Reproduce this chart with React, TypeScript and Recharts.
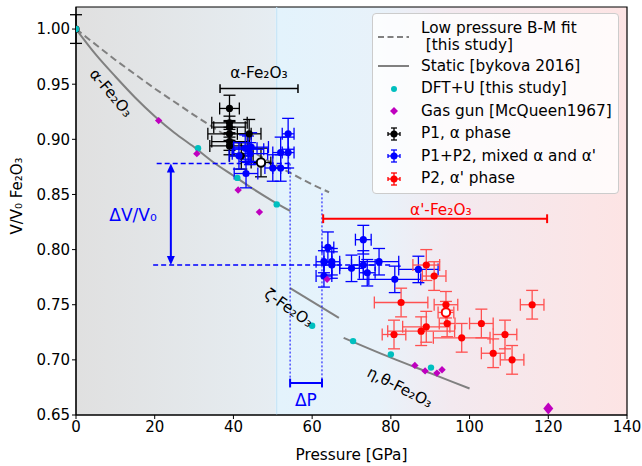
import React from "react";
import {
  ComposedChart,
  Line,
  Scatter,
  ErrorBar,
  XAxis,
  YAxis,
  CartesianGrid,
  ReferenceLine,
  ReferenceDot,
  ReferenceArea,
} from "recharts";

const FONT = "DejaVu Sans, Verdana, sans-serif";

const X_TICKS = [0, 20, 40, 60, 80, 100, 120, 140];
const Y_TICKS = [0.65, 0.7, 0.75, 0.8, 0.85, 0.9, 0.95, 1.0];

// curves
const bmFit = [
  { p: 0, v: 1.0 },
  { p: 10, v: 0.972 },
  { p: 20, v: 0.946 },
  { p: 30, v: 0.922 },
  { p: 40, v: 0.899 },
  { p: 50, v: 0.878 },
  { p: 60, v: 0.859 },
  { p: 64.3, v: 0.852 },
];

const staticAlpha = [
  { p: 0, v: 1.0 },
  { p: 5, v: 0.977 },
  { p: 10, v: 0.957 },
  { p: 15, v: 0.938 },
  { p: 20, v: 0.921 },
  { p: 25, v: 0.906 },
  { p: 30, v: 0.893 },
  { p: 35, v: 0.879 },
  { p: 40, v: 0.867 },
  { p: 45, v: 0.855 },
  { p: 50, v: 0.844 },
  { p: 54.4, v: 0.835 },
];

const staticZeta = [
  { p: 54.4, v: 0.765 },
  { p: 66.8, v: 0.738 },
];

const staticEta = [
  { p: 68, v: 0.72 },
  { p: 80, v: 0.702 },
  { p: 90, v: 0.688 },
  { p: 100, v: 0.674 },
];

// points
const dft = [
  { p: 0, v: 1.0 },
  { p: 31, v: 0.892 },
  { p: 41, v: 0.865 },
  { p: 51, v: 0.841 },
  { p: 60, v: 0.731 },
  { p: 70.4, v: 0.717 },
  { p: 80, v: 0.705 },
  { p: 90.2, v: 0.693 },
];

const gasGun = [
  { p: 21, v: 0.917 },
  { p: 30.7, v: 0.887 },
  { p: 41.2, v: 0.854 },
  { p: 46.6, v: 0.834 },
  { p: 63.8, v: 0.773 },
  { p: 86.1, v: 0.695 },
  { p: 88.7, v: 0.69 },
  { p: 91.7, v: 0.688 },
  { p: 93, v: 0.691 },
];
const gasGunHigh = [{ p: 120, v: 0.656 }];

const p1Alpha = [
  { p: 0, v: 1.0, xe: 0, ye: 0.013 },
  { p: 39, v: 0.928, xe: 2.5, ye: 0.012 },
  { p: 39, v: 0.915, xe: 4.5, ye: 0.006 },
  { p: 39, v: 0.911, xe: 4, ye: 0.006 },
  { p: 39, v: 0.905, xe: 5.5, ye: 0.006 },
  { p: 39, v: 0.898, xe: 4.5, ye: 0.008 },
  { p: 39, v: 0.894, xe: 5, ye: 0.008 },
  { p: 44, v: 0.905, xe: 3, ye: 0.013 },
  { p: 42, v: 0.885, xe: 3, ye: 0.012 },
];
const p1AlphaOpen = [{ p: 47, v: 0.879, xe: 2.5, ye: 0.013 }];

const p1p2Mixed = [
  { p: 41.4, v: 0.885, xe: 2.5, ye: 0.012 },
  { p: 43, v: 0.892, xe: 3, ye: 0.012 },
  { p: 43.7, v: 0.891, xe: 4, ye: 0.012 },
  { p: 44.5, v: 0.893, xe: 4.4, ye: 0.013 },
  { p: 44.2, v: 0.887, xe: 4.5, ye: 0.01 },
  { p: 43.2, v: 0.869, xe: 3, ye: 0.013 },
  { p: 50, v: 0.874, xe: 2, ye: 0.012 },
  { p: 52, v: 0.874, xe: 2, ye: 0.012 },
  { p: 52, v: 0.888, xe: 2, ye: 0.014 },
  { p: 53.9, v: 0.888, xe: 1.5, ye: 0.014 },
  { p: 53.9, v: 0.905, xe: 1.5, ye: 0.014 },
  { p: 64, v: 0.802, xe: 1.5, ye: 0.014 },
  { p: 63, v: 0.789, xe: 2, ye: 0.01 },
  { p: 65, v: 0.789, xe: 2, ye: 0.012 },
  { p: 63, v: 0.776, xe: 2, ye: 0.01 },
  { p: 65, v: 0.786, xe: 2, ye: 0.012 },
  { p: 70, v: 0.783, xe: 3, ye: 0.012 },
  { p: 73, v: 0.809, xe: 2, ye: 0.013 },
  { p: 73, v: 0.786, xe: 3, ye: 0.013 },
  { p: 74, v: 0.779, xe: 2, ye: 0.012 },
  { p: 77, v: 0.789, xe: 5, ye: 0.012 },
  { p: 81, v: 0.773, xe: 6.6, ye: 0.012 },
  { p: 87, v: 0.782, xe: 5, ye: 0.012 },
];

const p2Prime = [
  { p: 89, v: 0.786, xe: 3.4, ye: 0.014 },
  { p: 91, v: 0.776, xe: 3, ye: 0.013 },
  { p: 82.6, v: 0.752, xe: 6.8, ye: 0.013 },
  { p: 94, v: 0.75, xe: 3, ye: 0.012 },
  { p: 94.3, v: 0.733, xe: 2, ye: 0.012 },
  { p: 80.8, v: 0.723, xe: 3, ye: 0.013 },
  { p: 87.7, v: 0.726, xe: 8.5, ye: 0.013 },
  { p: 89, v: 0.73, xe: 6, ye: 0.014 },
  { p: 98, v: 0.72, xe: 7.2, ye: 0.013 },
  { p: 103, v: 0.733, xe: 3, ye: 0.013 },
  { p: 109, v: 0.723, xe: 3, ye: 0.013 },
  { p: 106, v: 0.706, xe: 3, ye: 0.013 },
  { p: 110.8, v: 0.7, xe: 3, ye: 0.013 },
  { p: 115.9, v: 0.75, xe: 3, ye: 0.013 },
];
const p2PrimeOpen = [{ p: 94, v: 0.743, xe: 2, ye: 0.01 }];

const LEGEND_LABELS = [
  ["Low pressure B-M fit", " [this study]"],
  ["Static [bykova 2016]"],
  ["DFT+U [this study]"],
  ["Gas gun [McQueen1967]"],
  ["P1, α phase"],
  ["P1+P2, mixed α and α'"],
  ["P2, α' phase"],
];

const GRAY = "#808080";
const CYAN = "#00bfbf";
const MAGENTA = "#bf00bf";
const BLUE = "#0000ff";
const RED = "#ff0000";

const dotShape = (fill: string, r = 3.6) => (props: any) => (
  <circle cx={props.cx} cy={props.cy} r={r} fill={fill} />
);
const openShape = (stroke: string) => (props: any) => (
  <circle cx={props.cx} cy={props.cy} r={4.2} fill="#fff" stroke={stroke} strokeWidth={2} />
);
const diamondShape = (hw: number, hh: number) => (props: any) => {
  const { cx, cy } = props;
  return (
    <polygon
      points={`${cx},${cy - hh} ${cx + hw},${cy} ${cx},${cy + hh} ${cx - hw},${cy}`}
      fill={MAGENTA}
    />
  );
};

const textShape =
  (text: string, color: string, size: number, angle = 0) =>
  (props: any) => {
    const { cx, cy } = props;
    return (
      <text
        x={cx}
        y={cy}
        fill={color}
        fontSize={size}
        fontFamily={FONT}
        textAnchor="middle"
        dominantBaseline="central"
        transform={angle ? `rotate(${angle} ${cx} ${cy})` : undefined}
      >
        {text}
      </text>
    );
  };

const arrowHead = (up: boolean) => (props: any) => {
  const { cx, cy } = props;
  const d = up ? 9 : -9;
  return (
    <polygon
      points={`${cx},${cy} ${cx - 4},${cy + d} ${cx + 4},${cy + d}`}
      fill={BLUE}
    />
  );
};

const YLabel = (props: any) => {
  const vb = props.viewBox || { x: 0, y: 7, width: 76, height: 408 };
  const x = vb.x + 17;
  const y = vb.y + vb.height / 2 - 15;
  return (
    <text
      x={x}
      y={y}
      transform={`rotate(-90 ${x} ${y})`}
      textAnchor="middle"
      dominantBaseline="central"
      fontSize={15}
      fontFamily={FONT}
      fill="#000"
    >
      V/V₀ Fe₂O₃
    </text>
  );
};

function LegendIcon({ i }: { i: number }) {
  const c = 21;
  const bar = (color: string) => (
    <g stroke={color} strokeWidth={1.3}>
      <line x1={c - 6} x2={c + 6} y1={11} y2={11} />
      <line x1={c} x2={c} y1={5} y2={17} />
      <line x1={c - 6} x2={c - 6} y1={9} y2={13} />
      <line x1={c + 6} x2={c + 6} y1={9} y2={13} />
      <line x1={c - 3} x2={c + 3} y1={5} y2={5} />
      <line x1={c - 3} x2={c + 3} y1={17} y2={17} />
      <circle cx={c} cy={11} r={3.5} fill={color} stroke="none" />
    </g>
  );
  let icon: React.ReactNode = null;
  if (i === 0)
    icon = <line x1={5} x2={36} y1={11} y2={11} stroke={GRAY} strokeWidth={2} strokeDasharray="6 3.5" />;
  else if (i === 1) icon = <line x1={5} x2={36} y1={11} y2={11} stroke={GRAY} strokeWidth={2} />;
  else if (i === 2) icon = <circle cx={c} cy={11} r={3} fill={CYAN} />;
  else if (i === 3) icon = <polygon points={`${c},7 ${c + 4},11 ${c},15 ${c - 4},11`} fill={MAGENTA} />;
  else if (i === 4) icon = bar("#000");
  else if (i === 5) icon = bar(BLUE);
  else icon = bar(RED);
  return (
    <svg width={44} height={22} style={{ display: "block", flex: "none" }}>
      {icon}
    </svg>
  );
}

function LegendBox() {
  return (
    <div
      style={{
        position: "absolute",
        left: 372,
        top: 13,
        width: 247,
        height: 181,
        boxSizing: "border-box",
        background: "rgba(255,255,255,0.8)",
        border: "1px solid #cccccc",
        borderRadius: 4,
        fontFamily: FONT,
        fontSize: 15.3,
        color: "#000",
        paddingTop: 5,
      }}
    >
      {LEGEND_LABELS.map((lines, i) => (
        <div
          key={i}
          style={{
            display: "flex",
            alignItems: "center",
            height: i === 0 ? 36 : 22.5,
            lineHeight: "17px",
          }}
        >
          <LegendIcon i={i} />
          <div style={{ marginLeft: 4, whiteSpace: "pre" }}>
            {lines.map((l, j) => (
              <div key={j}>{l}</div>
            ))}
          </div>
        </div>
      ))}
    </div>
  );
}

const seg = (x1: number, y1: number, x2: number, y2: number) => [
  { x: x1, y: y1 },
  { x: x2, y: y2 },
];

export default function App() {
  const tick = { fontSize: 15, fill: "#000", fontFamily: FONT };
  const ebBlack = { stroke: "#000", strokeWidth: 1.3, width: 6 };
  const ebBlue = { stroke: BLUE, strokeWidth: 1.3, width: 6 };
  const ebRed = { stroke: "#ff5050", strokeWidth: 1.3, width: 6 };
  const blueLine = { stroke: BLUE, strokeWidth: 1.5, strokeDasharray: "5 3" };
  const dotted = { stroke: BLUE, strokeWidth: 1, strokeDasharray: "2 2" };

  return (
    <div style={{ position: "absolute", left: 0, top: 0, width: 642, height: 466, background: "#fff" }}>
      <ComposedChart
        width={642}
        height={466}
        margin={{ top: 7, right: 15, bottom: 0, left: 0 }}
        style={{ fontFamily: FONT }}
      >
        <defs>
          <linearGradient id="bg" x1="0" y1="0" x2="1" y2="0">
            <stop offset="0" stopColor="#e0e0e0" />
            <stop offset="0.36" stopColor="#e6edf2" />
            <stop offset="0.365" stopColor="#e3f3fc" />
            <stop offset="0.55" stopColor="#e8f2fa" />
            <stop offset="0.68" stopColor="#f3e9ef" />
            <stop offset="1" stopColor="#fde4e4" />
          </linearGradient>
        </defs>
        <CartesianGrid horizontal={false} vertical={false} fill="url(#bg)" fillOpacity={1} />
        <XAxis
          dataKey="p"
          type="number"
          domain={[0, 140]}
          ticks={X_TICKS}
          allowDataOverflow
          height={51}
          tick={tick}
          tickSize={4}
          stroke="#000"
          label={{ value: "Pressure [GPa]", position: "insideBottom", offset: 6, fill: "#000", fontSize: 15.3 }}
        />
        <YAxis
          dataKey="v"
          type="number"
          domain={[0.65, 1.02]}
          ticks={Y_TICKS}
          allowDataOverflow
          width={76}
          tick={tick}
          tickSize={4}
          stroke="#000"
          tickFormatter={(v: number) => v.toFixed(2)}
          label={<YLabel />}
        />
        <ReferenceLine x={51} stroke="#c2e3f7" strokeWidth={1} />

        <Line data={bmFit} dataKey="v" stroke={GRAY} strokeWidth={2} strokeDasharray="7 4" dot={false} activeDot={false} isAnimationActive={false} legendType="none" />
        <Line data={staticAlpha} dataKey="v" type="monotone" stroke={GRAY} strokeWidth={2} dot={false} activeDot={false} isAnimationActive={false} legendType="none" />
        <Line data={staticZeta} dataKey="v" stroke={GRAY} strokeWidth={2} dot={false} activeDot={false} isAnimationActive={false} legendType="none" />
        <Line data={staticEta} dataKey="v" type="monotone" stroke={GRAY} strokeWidth={2} dot={false} activeDot={false} isAnimationActive={false} legendType="none" />

        {/* annotations: ΔV/V0 and ΔP */}
        <ReferenceLine segment={seg(20.5, 0.878, 54.4, 0.878)} {...blueLine} />
        <ReferenceLine segment={seg(19.6, 0.786, 80, 0.786)} {...blueLine} />
        <ReferenceLine segment={seg(54.4, 0.878, 54.4, 0.679)} {...dotted} />
        <ReferenceLine segment={seg(62.5, 0.851, 62.5, 0.679)} {...dotted} />
        <ReferenceLine segment={seg(24.1, 0.872, 24.1, 0.792)} stroke={BLUE} strokeWidth={2} />
        <ReferenceDot x={24.1} y={0.878} r={0} shape={arrowHead(true)} />
        <ReferenceDot x={24.1} y={0.786} r={0} shape={arrowHead(false)} />
        <ReferenceLine segment={seg(54.4, 0.679, 62.5, 0.679)} stroke={BLUE} strokeWidth={2} />
        <ReferenceLine segment={seg(54.4, 0.675, 54.4, 0.683)} stroke={BLUE} strokeWidth={2} />
        <ReferenceLine segment={seg(62.5, 0.675, 62.5, 0.683)} stroke={BLUE} strokeWidth={2} />

        {/* phase ranges */}
        <ReferenceLine segment={seg(36.6, 0.946, 56.4, 0.946)} stroke="#000" strokeWidth={1.5} />
        <ReferenceLine segment={seg(36.6, 0.942, 36.6, 0.95)} stroke="#000" strokeWidth={1.5} />
        <ReferenceLine segment={seg(56.4, 0.942, 56.4, 0.95)} stroke="#000" strokeWidth={1.5} />
        <ReferenceLine segment={seg(62.8, 0.828, 119.7, 0.828)} stroke={RED} strokeWidth={2} />
        <ReferenceLine segment={seg(62.8, 0.824, 62.8, 0.832)} stroke={RED} strokeWidth={2} />
        <ReferenceLine segment={seg(119.7, 0.824, 119.7, 0.832)} stroke={RED} strokeWidth={2} />

        <Scatter data={p1Alpha} dataKey="v" shape={dotShape("#000")} isAnimationActive={false} legendType="none">
          <ErrorBar dataKey="xe" direction="x" {...ebBlack} />
          <ErrorBar dataKey="ye" direction="y" {...ebBlack} />
        </Scatter>
        <Scatter data={dft} dataKey="v" shape={dotShape(CYAN, 3.2)} isAnimationActive={false} legendType="none" />
        <Scatter data={p1AlphaOpen} dataKey="v" shape={openShape("#000")} isAnimationActive={false} legendType="none">
          <ErrorBar dataKey="xe" direction="x" {...ebBlack} />
          <ErrorBar dataKey="ye" direction="y" {...ebBlack} />
        </Scatter>
        <Scatter data={p1p2Mixed} dataKey="v" shape={dotShape(BLUE)} isAnimationActive={false} legendType="none">
          <ErrorBar dataKey="xe" direction="x" {...ebBlue} />
          <ErrorBar dataKey="ye" direction="y" {...ebBlue} />
        </Scatter>
        <Scatter data={p2Prime} dataKey="v" shape={dotShape(RED)} isAnimationActive={false} legendType="none">
          <ErrorBar dataKey="xe" direction="x" {...ebRed} />
          <ErrorBar dataKey="ye" direction="y" {...ebRed} />
        </Scatter>
        <Scatter data={p2PrimeOpen} dataKey="v" shape={openShape(RED)} isAnimationActive={false} legendType="none">
          <ErrorBar dataKey="xe" direction="x" {...ebRed} />
          <ErrorBar dataKey="ye" direction="y" {...ebRed} />
        </Scatter>
        <Scatter data={gasGun} dataKey="v" shape={diamondShape(3.7, 3.7)} isAnimationActive={false} legendType="none" />
        <Scatter data={gasGunHigh} dataKey="v" shape={diamondShape(5, 6)} isAnimationActive={false} legendType="none" />

        {/* text labels */}
        <ReferenceDot x={8.9} y={0.942} r={0} shape={textShape("α-Fe₂O₃", "#000", 15.3, 50)} />
        <ReferenceDot x={54.1} y={0.747} r={0} shape={textShape("ζ-Fe₂O₃", "#000", 15.3, 35)} />
        <ReferenceDot x={82.3} y={0.675} r={0} shape={textShape("η,θ-Fe₂O₃", "#000", 15.3, 27)} />
        <ReferenceDot x={46.5} y={0.96} r={0} shape={textShape("α-Fe₂O₃", "#000", 15.3)} />
        <ReferenceDot x={92.7} y={0.836} r={0} shape={textShape("α'-Fe₂O₃", RED, 15.3)} />
        <ReferenceDot x={14.5} y={0.831} r={0} shape={textShape("ΔV/V₀", BLUE, 17)} />
        <ReferenceDot x={58.4} y={0.664} r={0} shape={textShape("ΔP", BLUE, 17)} />

        <ReferenceArea x1={0} x2={140} y1={0.65} y2={1.02} fill="none" stroke="#000" strokeWidth={1.2} />
      </ComposedChart>
      <LegendBox />
    </div>
  );
}
